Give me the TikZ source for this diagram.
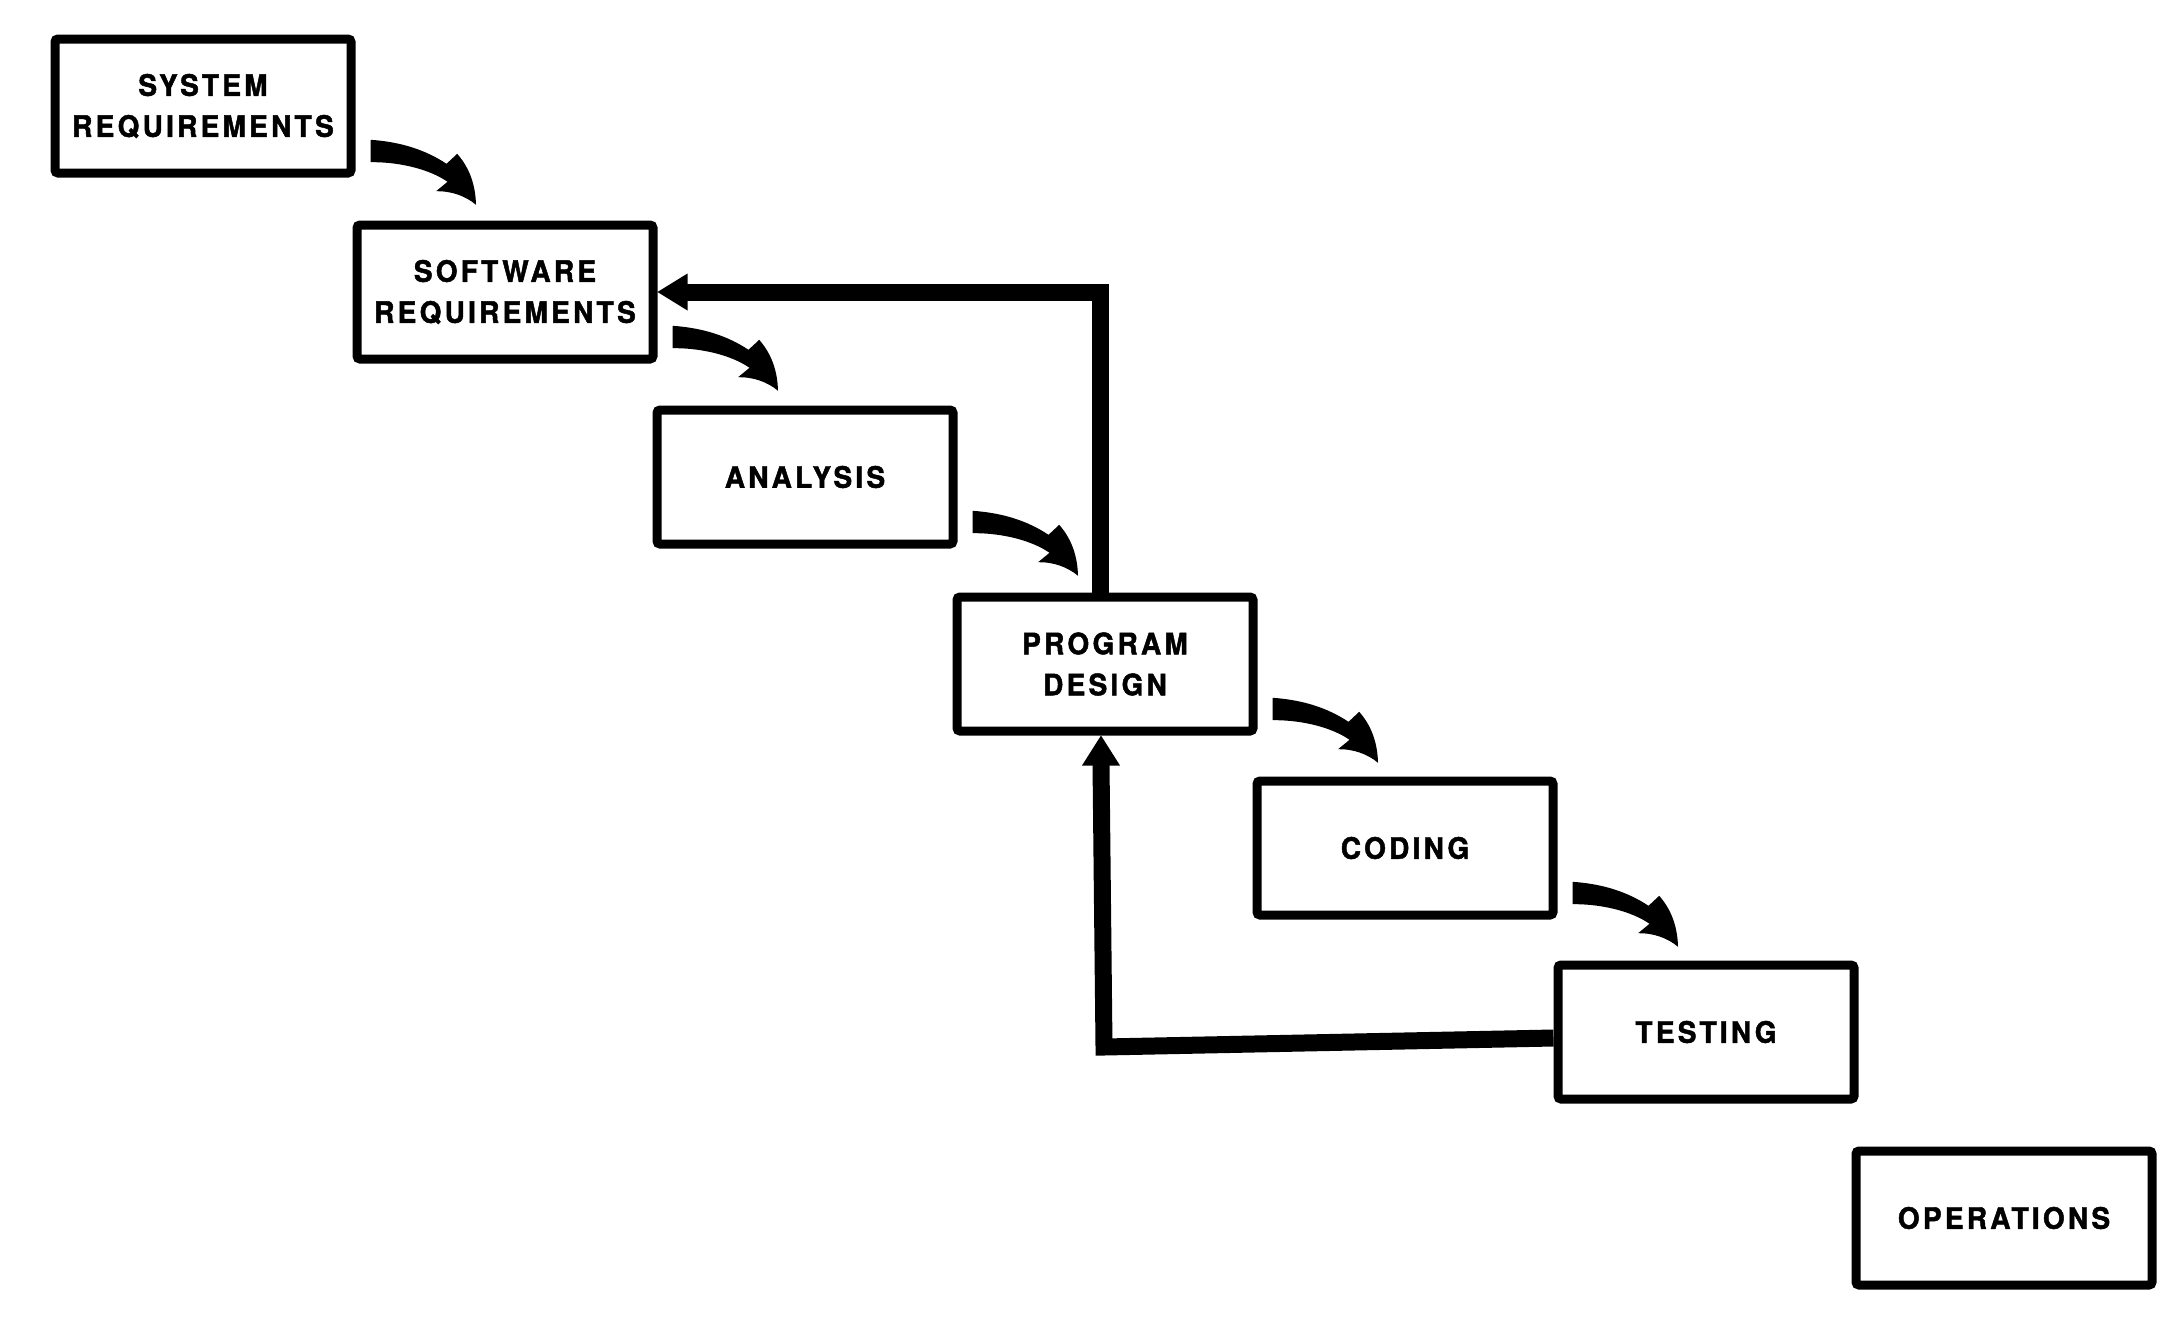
\documentclass[tikz,border=0pt]{standalone}
\usepackage{fontspec}
\setmainfont{TeX Gyre Heros}
\newfontfamily\boxfont{TeX Gyre Heros}[LetterSpace=11,FakeBold=1.6,FakeStretch=0.95]
\usetikzlibrary{calc}
\tikzset{
  stage/.style={draw, line width=9pt, minimum width=296pt, minimum height=134pt,
    inner sep=0pt, rounded corners=3pt, align=center,
    font={\boxfont\bfseries\fontsize{29.5pt}{41pt}\selectfont}},
  fb/.style={line width=17pt, line join=miter},
  steparrow/.pic={
    \fill (0,0) .. controls (30,2) and (55,10) .. (76,24)
      -- (86.7,14) .. controls (99,28) and (105,45) .. (105.5,65)
      .. controls (95,56) and (80,51) .. (65.6,51.4)
      -- (77,42) .. controls (60,30) and (30,22) .. (0,22.4) -- cycle;
  }
}
\begin{document}
\begin{tikzpicture}[x=1pt,y=-1pt]
\fill[white] (0,0) rectangle (2184,1320);
\useasboundingbox (0,0) rectangle (2184,1320);

\node[stage] (b1) at (203,106) {SYSTEM\\REQUIREMENTS};
\node[stage] (b2) at (505,292) {SOFTWARE\\REQUIREMENTS};
\node[stage] (b3) at (805,477) {ANALYSIS};
\node[stage] (b4) at (1105,664) {PROGRAM\\DESIGN};
\node[stage] (b5) at (1405,848) {CODING};
\node[stage] (b6) at (1706,1032) {TESTING};
\node[stage] (b7) at (2004,1218) {OPERATIONS};

\foreach \a in {b1,b2,b3,b4,b5}
  \pic at ($(\a.south east)+(15,-37.7)$) {steparrow};

% feedback: program design -> software requirements
\coordinate (t4) at ($(b4.north)+(-5,0)$);
\draw[fb] (t4) |- ($(b2.east)+(28,0)$);
\fill (b2.east) -- ++(30,-18.5) -- ++(0,37) -- cycle;

% feedback: testing -> program design
\coordinate (fbc) at (1104,1047);
\draw[fb] ($(b6.west)+(0,6)$) -- (fbc) -- ($(b4.south)+(-4,28)$);
\fill ($(b4.south)+(-4,0)$) -- ++(-19,30) -- ++(38,0) -- cycle;
\end{tikzpicture}
\end{document}
